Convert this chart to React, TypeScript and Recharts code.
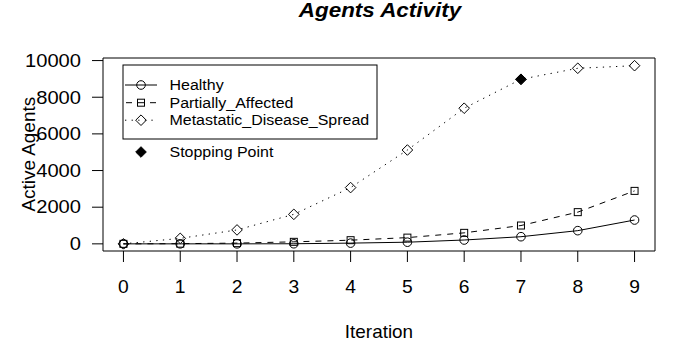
import { LineChart, Line, XAxis, YAxis, ReferenceArea } from 'recharts';

const iterations = [0, 1, 2, 3, 4, 5, 6, 7, 8, 9];
const healthy = [0, 0, 0, 5, 40, 90, 210, 390, 720, 1300];
const partiallyAffected = [0, 10, 40, 110, 200, 340, 600, 1000, 1730, 2890];
const metastaticSpread = [0, 300, 760, 1610, 3070, 5120, 7400, 8980, 9580, 9720];
const stoppingIteration = 7;
const yTicks = [0, 2000, 4000, 6000, 8000, 10000];
const seriesNames = ['Healthy', 'Partially_Affected', 'Metastatic_Disease_Spread'];

const data = iterations.map((it, i) => ({
  iteration: it,
  healthy: healthy[i],
  partial: partiallyAffected[i],
  metastatic: metastaticSpread[i],
  stop: it === stoppingIteration ? metastaticSpread[i] : null,
}));

const FONT = '"Liberation Sans", Arial, Helvetica, sans-serif';

const CircleMark = ({ cx, cy }: any) => (
  <circle cx={cx} cy={cy} r={4.3} fill="none" stroke="#000" strokeWidth={1} />
);
const SquareMark = ({ cx, cy }: any) => (
  <rect x={cx - 3.5} y={cy - 3.5} width={7} height={7} fill="none" stroke="#000" strokeWidth={1} />
);
const DiamondMark = ({ cx, cy, filled }: any) => (
  <polygon
    points={`${cx},${cy - 5.3} ${cx + 5.3},${cy} ${cx},${cy + 5.3} ${cx - 5.3},${cy}`}
    fill={filled ? '#000' : 'none'}
    stroke="#000"
    strokeWidth={1}
  />
);

function dotWith(Mark: any, name: string, filled = false) {
  return (props: any) => {
    const { cx, cy, index } = props;
    if (cx == null || cy == null || props.value == null) return <g key={`${name}-${index}`} />;
    return <Mark key={`${name}-${index}`} cx={cx} cy={cy} filled={filled} />;
  };
}

// R's Helvetica renders a bit wider than Liberation Sans, so stretch text horizontally
const stretchX = (x: number, s: number) => `translate(${x} 0) scale(${s} 1) translate(${-x} 0)`;

const YTick = ({ x, y, payload }: any) => (
  <text
    x={x}
    y={y + 6.3}
    textAnchor="end"
    fontSize={17.5}
    fontFamily={FONT}
    fill="#000"
    transform={stretchX(x, 1.15)}
  >
    {payload.value}
  </text>
);

const XTick = ({ x, y, payload }: any) => (
  <text
    x={x}
    y={y + 18}
    textAnchor="middle"
    fontSize={17.5}
    fontFamily={FONT}
    fill="#000"
    transform={stretchX(x, 1.1)}
  >
    {payload.value}
  </text>
);

const legendRows = [90.5, 108, 125.5];

export default function App() {
  return (
    <div style={{ position: 'relative', width: 673, height: 350, background: '#fff' }}>
      <style>{'body{margin:0}'}</style>
      <LineChart width={673} height={350} data={data} margin={{ top: 58, right: 18, bottom: 39, left: 0 }}>
        <XAxis
          dataKey="iteration"
          type="number"
          domain={[-0.36, 9.36]}
          ticks={iterations}
          allowDataOverflow
          axisLine={false}
          tickLine={{ stroke: '#000' }}
          tickSize={11}
          tickMargin={13}
          height={60}
          tick={<XTick />}
        />
        <YAxis
          type="number"
          domain={[-390, 10140]}
          ticks={yTicks}
          allowDataOverflow
          axisLine={false}
          tickLine={{ stroke: '#000' }}
          tickSize={11}
          tickMargin={11}
          width={103}
          tick={<YTick />}
        />
        <ReferenceArea x1={-0.36} x2={9.36} y1={-390} y2={10140} fill="none" stroke="#000" strokeWidth={1} />
        <Line
          dataKey="healthy"
          type="linear"
          stroke="#000"
          strokeWidth={1}
          dot={dotWith(CircleMark, 'h')}
          isAnimationActive={false}
        />
        <Line
          dataKey="partial"
          type="linear"
          stroke="#000"
          strokeWidth={1}
          strokeDasharray="6 6"
          dot={dotWith(SquareMark, 'p')}
          isAnimationActive={false}
        />
        <Line
          dataKey="metastatic"
          type="linear"
          stroke="#000"
          strokeWidth={1}
          strokeDasharray="1.3 5.3"
          dot={dotWith(DiamondMark, 'm')}
          isAnimationActive={false}
        />
        <Line
          dataKey="stop"
          type="linear"
          stroke="none"
          dot={dotWith(DiamondMark, 's', true)}
          isAnimationActive={false}
        />
      </LineChart>
      <svg
        width={673}
        height={350}
        style={{ position: 'absolute', left: 0, top: 0, pointerEvents: 'none', fontFamily: FONT }}
      >
        <text
          x={380}
          y={16.8}
          textAnchor="middle"
          fontSize={19.5}
          fontWeight="bold"
          fontStyle="italic"
          transform={stretchX(380, 1.15)}
        >
          Agents Activity
        </text>
        <text x={379} y={338.3} textAnchor="middle" fontSize={18} transform={stretchX(379, 1.05)}>
          Iteration
        </text>
        <text transform="translate(35,154.2) rotate(-90) scale(1.07 1)" textAnchor="middle" fontSize={17.7}>
          Active Agents
        </text>
        <rect x={123} y={65} width={254} height={74} fill="#fff" stroke="#000" strokeWidth={1} />
        <line x1={125} x2={157} y1={85} y2={85} stroke="#000" />
        <CircleMark cx={141} cy={85} />
        <line x1={125} x2={157} y1={102.7} y2={102.7} stroke="#000" strokeDasharray="6 6" strokeDashoffset={-1} />
        <SquareMark cx={141} cy={102.7} />
        <line x1={125} x2={157} y1={120.2} y2={120.2} stroke="#000" strokeDasharray="1.3 5.3" />
        <DiamondMark cx={141} cy={120.2} />
        <DiamondMark cx={141} cy={152} filled />
        {seriesNames.map((n, i) => (
          <text key={n} x={169.5} y={legendRows[i]} fontSize={15} transform={stretchX(169.5, 1.065)}>
            {n}
          </text>
        ))}
        <text x={169.5} y={157.3} fontSize={15} transform={stretchX(169.5, 1.065)}>
          Stopping Point
        </text>
      </svg>
    </div>
  );
}
